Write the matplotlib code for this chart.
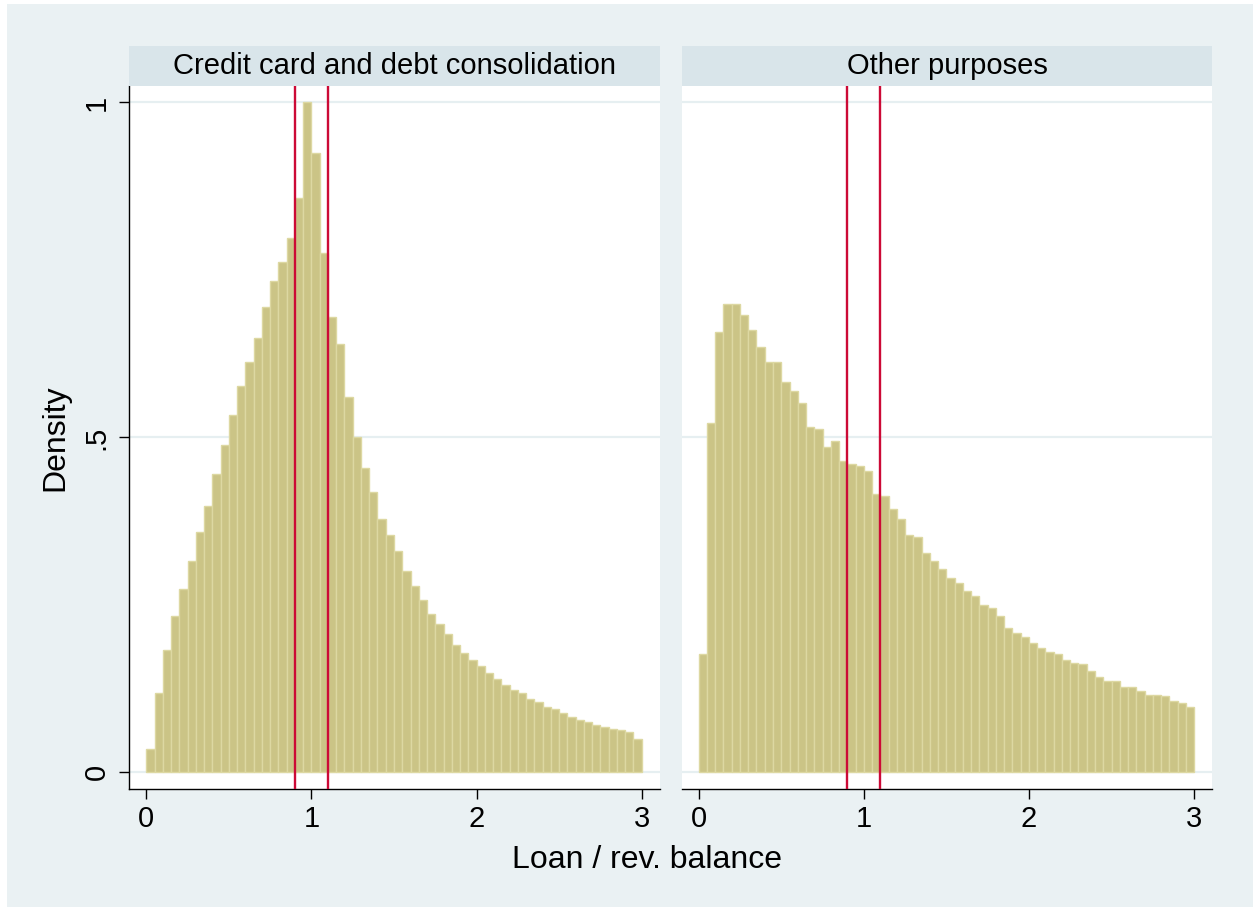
import numpy as np
import matplotlib
matplotlib.use("Agg")
import matplotlib.pyplot as plt
from matplotlib.patches import Rectangle

plt.rcParams['font.family'] = ['Liberation Sans', 'DejaVu Sans']

# histogram bins: 60 bins of width .05 from 0 to 3
bin_width = 0.05
bin_left = np.arange(60) * bin_width

# density, credit card and debt consolidation
dens_cc = [0.035, 0.118, 0.183, 0.233, 0.274, 0.316, 0.358, 0.398, 0.445, 0.489,
           0.533, 0.577, 0.612, 0.648, 0.695, 0.734, 0.762, 0.797, 0.858, 1.000,
           0.925, 0.775, 0.680, 0.639, 0.560, 0.501, 0.454, 0.418, 0.378, 0.354,
           0.331, 0.300, 0.278, 0.257, 0.236, 0.222, 0.206, 0.190, 0.178, 0.168,
           0.158, 0.148, 0.139, 0.131, 0.123, 0.118, 0.109, 0.105, 0.098, 0.094,
           0.088, 0.083, 0.078, 0.075, 0.071, 0.068, 0.064, 0.063, 0.060, 0.049]

# density, other purposes
dens_other = [0.176, 0.521, 0.657, 0.699, 0.699, 0.682, 0.661, 0.635, 0.613, 0.612,
              0.583, 0.569, 0.552, 0.515, 0.513, 0.485, 0.495, 0.464, 0.460, 0.458,
              0.450, 0.416, 0.413, 0.393, 0.378, 0.355, 0.351, 0.327, 0.315, 0.303,
              0.290, 0.283, 0.271, 0.263, 0.250, 0.245, 0.233, 0.215, 0.208, 0.202,
              0.193, 0.185, 0.179, 0.176, 0.167, 0.163, 0.161, 0.151, 0.143, 0.137,
              0.136, 0.127, 0.127, 0.122, 0.115, 0.115, 0.114, 0.106, 0.104, 0.097]

panel_titles = ["Credit card and debt consolidation", "Other purposes"]
ref_lines = [0.9, 1.1]
yticks = [0, 0.5, 1]
ytick_labels = ["0", ".5", "1"]
xticks = [0, 1, 2, 3]

W, H = 1253, 907
bg = '#EAF1F3'
strip = '#D9E5EA'
fill = '#CBC486'
edge = '#DDD8A2'
red = '#CC0A36'
fs = 23
fs_small = 21

fig = plt.figure(figsize=(W / 100, H / 100), dpi=100, facecolor='white')
fig.patches.append(Rectangle((7 / W, 0), 1 - 7 / W, 1 - 4 / H, transform=fig.transFigure,
                             facecolor=bg, edgecolor='none', zorder=-10))

ax_bottom = 1 - 789.3 / H
ax_height = (789.3 - 86) / H
ax_width = (660 - 129.3) / W
lefts = [129.3 / W, 681.7 / W]

for i, dens in enumerate([dens_cc, dens_other]):
    ax = fig.add_axes([lefts[i], ax_bottom, ax_width, ax_height])
    ax.set_facecolor('white')
    for y in yticks:
        ax.axhline(y, color='#E6EFF1', lw=1.6, zorder=0)
    ax.bar(bin_left, dens, width=bin_width, align='edge', color=fill,
           edgecolor=edge, linewidth=1.0, zorder=2)
    for x in ref_lines:
        ax.axvline(x, color=red, lw=1.7, zorder=3)
    ax.set_xlim(-0.103, 3.111)
    ax.set_ylim(-0.0254, 1.0246)
    ax.set_xticks(xticks)
    ax.set_xticklabels([str(t) for t in xticks], fontsize=fs_small)
    ax.tick_params(axis='x', length=7.5, width=1.0, pad=4)
    for s in ['top', 'right']:
        ax.spines[s].set_visible(False)
    ax.spines['bottom'].set_linewidth(1.0)
    if i == 0:
        ax.set_yticks(yticks)
        ax.set_yticklabels(ytick_labels, fontsize=fs_small, rotation=90, va='center')
        ax.tick_params(axis='y', length=7.5, width=1.0, pad=6)
        ax.spines['left'].set_linewidth(1.0)
    else:
        ax.set_yticks([])
        ax.spines['left'].set_visible(False)

    # panel header strip
    sx = fig.add_axes([lefts[i], 1 - 86 / H, ax_width, 40 / H])
    sx.set_facecolor(strip)
    sx.set_xticks([])
    sx.set_yticks([])
    for s in sx.spines.values():
        s.set_visible(False)
    sx.text(0.5, 0.5, panel_titles[i], ha='center', va='center', fontsize=fs_small,
            transform=sx.transAxes)

fig.text(646.5 / W, 1 - 860 / H, "Loan / rev. balance", ha='center', va='center', fontsize=fs)
fig.text(55 / W, 1 - 438 / H, "Density", ha='center', va='center', rotation=90, fontsize=fs)

fig.savefig("out.png", dpi=100, facecolor='white')
